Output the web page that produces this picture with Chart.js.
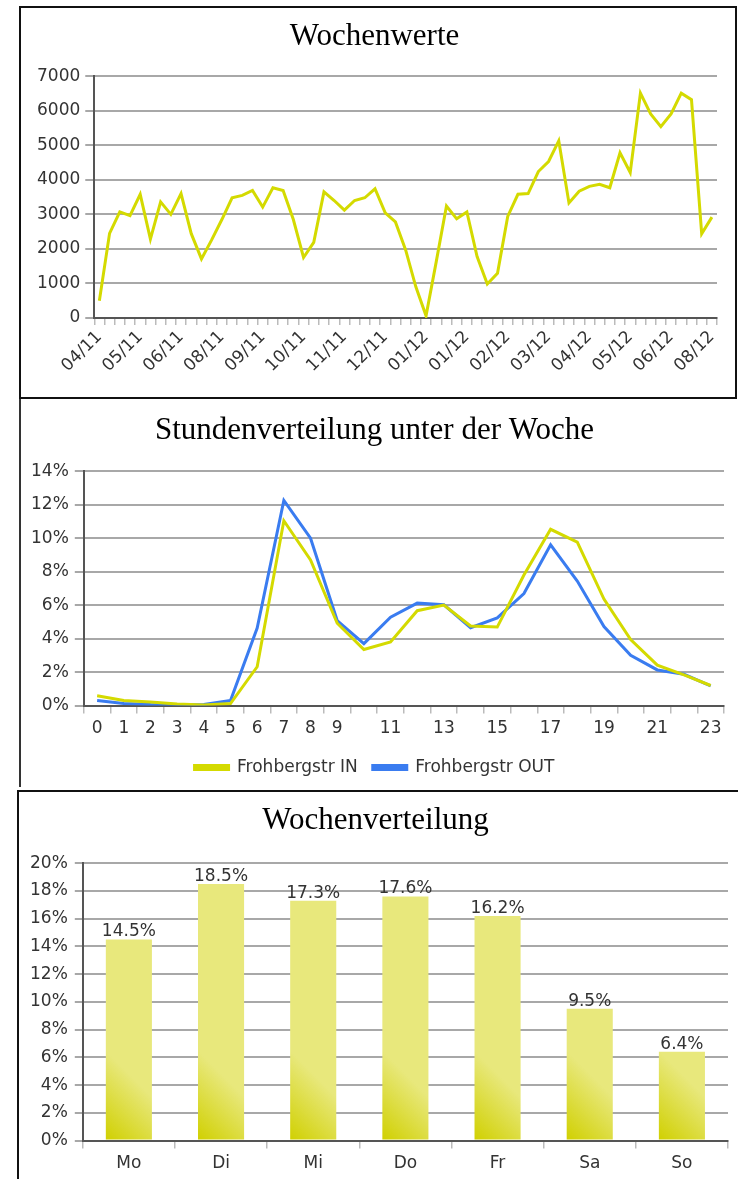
<!DOCTYPE html>
<html>
<head>
<meta charset="utf-8">
<script src="https://cdn.jsdelivr.net/npm/chart.js@4"></script>
<style>
  body { margin: 0; background: #fff; width: 738px; height: 1179px; position: relative; overflow: hidden; }
  .panel { position: absolute; box-sizing: border-box; }
  canvas { position: absolute; }
</style>
</head>
<body>
<div class="panel" style="left:19px;top:6px;width:718px;height:393px;border:2px solid #111;"></div>
<div class="panel" style="left:19px;top:399px;width:719px;height:388px;border-left:2px solid #333;"></div>
<div class="panel" style="left:17px;top:790px;width:725px;height:395px;border:2px solid #111;"></div>

<canvas id="weekChart" style="left:21px;top:8px;" width="713" height="389"></canvas>
<canvas id="hourChart" style="left:21px;top:400px;" width="715" height="386"></canvas>
<canvas id="dayChart" style="left:19px;top:792px;" width="719" height="387"></canvas>

<script>
// Wochenwerte
var weekTickLabels = ['04/11', '05/11', '06/11', '08/11', '09/11', '10/11', '11/11', '12/11',
    '01/12', '01/12', '02/12', '03/12', '04/12', '05/12', '06/12', '08/12'];
var weeklyValues = [500, 2450, 3070, 2960, 3580, 2280, 3360, 3000, 3600, 2440,
    1710, 2260, 2850, 3480, 3550, 3690, 3210, 3770, 3690, 2850,
    1750, 2190, 3650, 3400, 3120, 3400, 3480, 3740, 3040, 2780,
    1970, 900, 60, 1630, 3240, 2870, 3070, 1780, 980, 1290,
    2940, 3580, 3600, 4240, 4530, 5130, 3330, 3670, 3810, 3870,
    3770, 4780, 4210, 6510, 5910, 5540, 5910, 6510, 6320, 2440, 2920];

// Stundenverteilung
var hours = ['0', '1', '2', '3', '4', '5', '6', '7', '8', '9', '10', '11',
    '12', '13', '14', '15', '16', '17', '18', '19', '20', '21', '22', '23'];
var hourIn = [0.59, 0.31, 0.22, 0.10, 0.04, 0.12, 2.32, 11.04, 8.70, 4.92, 3.35, 3.80,
    5.67, 6.00, 4.76, 4.69, 7.80, 10.53, 9.76, 6.36, 3.94, 2.42, 1.83, 1.20];
var hourOut = [0.30, 0.12, 0.06, 0.04, 0.06, 0.30, 4.63, 12.26, 10.00, 5.08, 3.70, 5.28,
    6.12, 6.02, 4.65, 5.24, 6.69, 9.60, 7.44, 4.72, 3.01, 2.13, 1.87, 1.18];

// Wochenverteilung
var days = ['Mo', 'Di', 'Mi', 'Do', 'Fr', 'Sa', 'So'];
var dayShares = [14.5, 18.5, 17.3, 17.6, 16.2, 9.5, 6.4];

var YELLOW = '#d4da00';
var BLUE = '#3a7cf0';
var GRID = '#a8a8a8';
var AXIS = '#555';
var TEXT = '#333';
var tickFont = { family: 'DejaVu Sans', size: 17 };
var titleFont = { family: 'Liberation Serif', size: 31, weight: 'normal' };

Chart.defaults.animation = false;
Chart.defaults.responsive = false;
Chart.defaults.color = TEXT;

// one label every 4 weeks
var weekCategories = weeklyValues.map(function (v, i) {
    return i % 4 === 0 ? weekTickLabels[i / 4] : '';
});

new Chart(document.getElementById('weekChart'), {
    type: 'line',
    data: {
        labels: weekCategories,
        datasets: [{
            data: weeklyValues,
            borderColor: YELLOW,
            borderWidth: 3,
            pointRadius: 0,
            tension: 0,
            fill: false
        }]
    },
    options: {
        layout: { padding: { left: 11, right: 17, bottom: 19 } },
        plugins: {
            legend: { display: false },
            tooltip: { enabled: false },
            title: {
                display: true,
                text: 'Wochenwerte',
                color: '#000',
                font: titleFont,
                padding: { top: 10, bottom: 21 }
            }
        },
        scales: {
            x: {
                offset: true,
                grid: { offset: true, drawOnChartArea: false, color: '#bbb', tickLength: 7, lineWidth: 1.5 },
                border: { color: AXIS, width: 2 },
                ticks: { autoSkip: false, maxRotation: 45, minRotation: 45, font: tickFont, color: TEXT, padding: 2 }
            },
            y: {
                min: 0,
                max: 7000,
                ticks: {
                    stepSize: 1000,
                    font: tickFont,
                    color: TEXT,
                    padding: 5,
                    callback: function (v) { return String(v); }
                },
                grid: { color: GRID, lineWidth: 2, tickLength: 9 },
                border: { color: AXIS, width: 2 }
            }
        }
    }
});

new Chart(document.getElementById('hourChart'), {
    type: 'line',
    data: {
        labels: hours,
        datasets: [{
            label: 'Frohbergstr IN',
            data: hourIn,
            borderColor: YELLOW,
            backgroundColor: YELLOW,
            borderWidth: 3,
            pointRadius: 0,
            fill: false
        }, {
            label: 'Frohbergstr OUT',
            data: hourOut,
            borderColor: BLUE,
            backgroundColor: BLUE,
            borderWidth: 3,
            pointRadius: 0,
            fill: false
        }]
    },
    options: {
        layout: { padding: { left: 4, right: 12, bottom: 0 } },
        plugins: {
            tooltip: { enabled: false },
            title: {
                display: true,
                text: 'Stundenverteilung unter der Woche',
                color: '#000',
                font: titleFont,
                padding: { top: 12, bottom: 22 }
            },
            legend: {
                position: 'bottom',
                labels: { boxWidth: 34, boxHeight: 4, font: tickFont, color: TEXT, padding: 15 }
            }
        },
        scales: {
            x: {
                offset: true,
                grid: { offset: true, drawOnChartArea: false, color: '#bbb', tickLength: 8, lineWidth: 1.5 },
                border: { color: AXIS, width: 2 },
                ticks: {
                    autoSkip: false,
                    maxRotation: 0,
                    font: tickFont,
                    color: TEXT,
                    padding: 5,
                    callback: function (value, index) {
                        return (index < 10 || index % 2 === 1) ? hours[index] : '';
                    }
                }
            },
            y: {
                min: 0,
                max: 14,
                ticks: {
                    stepSize: 2,
                    font: tickFont,
                    color: TEXT,
                    padding: 6,
                    callback: function (v) { return v + '%'; }
                },
                grid: { color: GRID, lineWidth: 2, tickLength: 9 },
                border: { color: AXIS, width: 2 }
            }
        }
    }
});

// value labels above the bars
var barValueLabels = {
    id: 'barValueLabels',
    afterDatasetsDraw: function (chart) {
        var ctx = chart.ctx;
        var meta = chart.getDatasetMeta(0);
        ctx.save();
        ctx.font = '17px "DejaVu Sans"';
        ctx.fillStyle = TEXT;
        ctx.textAlign = 'center';
        ctx.textBaseline = 'alphabetic';
        meta.data.forEach(function (bar, i) {
            ctx.fillText(dayShares[i].toFixed(1) + '%', bar.x, bar.y - 3);
        });
        ctx.restore();
    }
};

new Chart(document.getElementById('dayChart'), {
    type: 'bar',
    data: {
        labels: days,
        datasets: [{
            data: dayShares,
            barPercentage: 0.5,
            categoryPercentage: 1,
            backgroundColor: function (context) {
                var chart = context.chart;
                var area = chart.chartArea;
                if (!area || !chart.scales.x) return '#e8e87c';
                var x = chart.scales.x.getPixelForValue(context.dataIndex);
                // diagonal shading from the lower left corner of each bar
                var g = chart.ctx.createLinearGradient(x - 23, area.bottom, x + 22, area.bottom - 45);
                g.addColorStop(0, '#d0d000');
                g.addColorStop(1, '#e8e87c');
                return g;
            }
        }]
    },
    plugins: [barValueLabels],
    options: {
        layout: { padding: { left: 4, right: 10, bottom: 0 } },
        plugins: {
            legend: { display: false },
            tooltip: { enabled: false },
            title: {
                display: true,
                text: 'Wochenverteilung',
                color: '#000',
                font: titleFont,
                padding: { top: 10, bottom: 24 }
            }
        },
        scales: {
            x: {
                grid: { offset: true, drawOnChartArea: false, color: '#bbb', tickLength: 8, lineWidth: 1.5 },
                border: { color: AXIS, width: 2 },
                ticks: { font: tickFont, color: TEXT, padding: 5 }
            },
            y: {
                min: 0,
                max: 20,
                ticks: {
                    stepSize: 2,
                    font: tickFont,
                    color: TEXT,
                    padding: 7,
                    callback: function (v) { return v + '%'; }
                },
                grid: { color: GRID, lineWidth: 2, tickLength: 8 },
                border: { color: AXIS, width: 2 }
            }
        }
    }
});
</script>
</body>
</html>
